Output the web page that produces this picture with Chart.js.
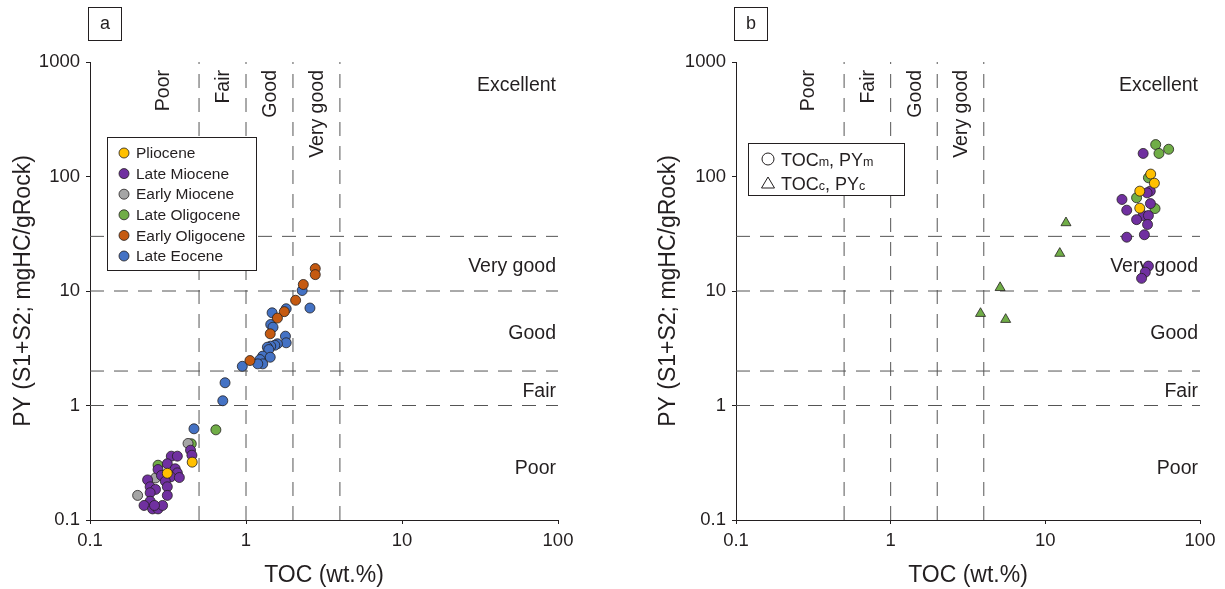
<!DOCTYPE html>
<html>
<head>
<meta charset="utf-8">
<script src="https://cdn.jsdelivr.net/npm/chart.js@4.4.1/dist/chart.umd.min.js"></script>
<style>
  body { margin: 0; background: #fff; }
  #wrap { position: relative; width: 1225px; height: 589px; }
  canvas { position: absolute; top: 0; }
</style>
</head>
<body>
<div id="wrap">
  <canvas id="chartA" width="612" height="589" style="left:0"></canvas>
  <canvas id="chartB" width="613" height="589" style="left:612px"></canvas>
</div>
<script>
// axes
const xTicks = [0.1, 1, 10, 100];
const yTicks = [0.1, 1, 10, 100, 1000];
const tocLimits = [0.5, 1, 2, 4];
const pyLimits = [1, 2, 10, 30];
const tocClasses = ["Poor", "Fair", "Good", "Very good"];
const pyClasses = ["Excellent", "Very good", "Good", "Fair", "Poor"];

// panel a: [TOC, PY]
const ages = ["Pliocene", "Late Miocene", "Early Miocene", "Late Oligocene", "Early Oligocene", "Late Eocene"];
const pliocene = [[0.452, 0.32], [0.313, 0.256]];
const lateMiocene = [[0.441, 0.407], [0.45, 0.368], [0.332, 0.361], [0.363, 0.361], [0.313, 0.31], [0.273, 0.276],
  [0.352, 0.28], [0.363, 0.258], [0.287, 0.245], [0.329, 0.238], [0.374, 0.235], [0.234, 0.224], [0.304, 0.218],
  [0.243, 0.195], [0.313, 0.195], [0.263, 0.185], [0.243, 0.173], [0.313, 0.164], [0.243, 0.146], [0.222, 0.134],
  [0.252, 0.125], [0.273, 0.125], [0.292, 0.134], [0.259, 0.134]];
const earlyMiocene = [[0.425, 0.466], [0.263, 0.233], [0.202, 0.164]];
const lateOligocene = [[0.641, 0.613], [0.446, 0.463], [0.273, 0.301]];
const earlyOligocene = [[2.78, 15.7], [2.78, 13.9], [2.33, 11.4], [2.08, 8.3], [1.76, 6.6], [1.59, 5.8], [1.43, 4.23], [1.06, 2.47]];
const lateEocene = [[2.29, 10.1], [2.57, 7.1], [1.81, 7.0], [1.47, 6.45], [1.44, 5.1], [1.49, 4.83], [1.79, 4.03],
  [1.81, 3.53], [1.59, 3.46], [1.53, 3.36], [1.44, 3.3], [1.37, 3.23], [1.40, 3.08], [1.28, 2.7], [1.43, 2.64],
  [1.23, 2.52], [1.28, 2.31], [1.19, 2.31], [0.947, 2.2], [0.734, 1.58], [0.71, 1.1], [0.464, 0.626]];

// panel b: measured (circles) and corrected (triangles)
const bPliocene = [[48, 105], [50.7, 87.4], [40.8, 74.5], [40.8, 52.9]];
const bLateMiocene = [[42.9, 159], [47.7, 74.5], [45.5, 72], [31.3, 63], [47.8, 58], [33.6, 50.8], [42.9, 45.6],
  [46.4, 45.6], [38.9, 42], [45.8, 38.1], [33.6, 29.5], [43.7, 31], [46.4, 16.5], [44.3, 14.6], [41.9, 12.9]];
const bLateOligocene = [[51.7, 190], [62.7, 173], [54.3, 159], [46.4, 97.5], [38.9, 65.2], [51.2, 52.5]];
const bCorrected = [[13.6, 39.4], [12.4, 21.3], [5.1, 10.7], [3.81, 6.36], [5.54, 5.64]];

const ink = "#231f20";
const FONT = "'Liberation Sans', Arial, sans-serif";
const colors = ["#FFC000", "#7030A0", "#A5A5A5", "#70AD47", "#C55A11", "#4472C4"];

const pts = arr => arr.map(([x, y]) => ({ x, y }));

function series(arr, color, style) {
  return {
    data: pts(arr), backgroundColor: color, borderColor: ink, borderWidth: 0.8,
    pointRadius: style === "triangle" ? 5.8 : 5, pointStyle: style || "circle", order: 0
  };
}

function refLines() {
  const lo = yTicks[0], hi = yTicks[yTicks.length - 1];
  const xl = xTicks[0], xh = xTicks[xTicks.length - 1];
  const line = data => ({
    data, showLine: true, borderColor: "#555", borderWidth: 1, borderDash: [14, 10],
    pointRadius: 0, fill: false, order: 10
  });
  return [
    ...tocLimits.map(v => line([{ x: v, y: lo }, { x: v, y: hi }])),
    ...pyLimits.map(v => line([{ x: xl, y: v }, { x: xh, y: v }]))
  ];
}

function deco(letter, legend) {
  return {
    id: "deco" + letter,
    beforeDatasetsDraw(chart) {
      const { ctx, chartArea: a, scales: { x, y } } = chart;
      ctx.save();
      ctx.fillStyle = ink;
      ctx.font = "19.5px " + FONT;
      // TOC classes, rotated
      const off = [35, 22, 22, 22];
      tocClasses.forEach((t, i) => {
        const px = x.getPixelForValue(tocLimits[i]) - off[i];
        ctx.save();
        ctx.translate(px, a.top + 8);
        ctx.rotate(-Math.PI / 2);
        ctx.textAlign = "right";
        ctx.textBaseline = "middle";
        ctx.fillText(t, 0, 0);
        ctx.restore();
      });
      // PY classes
      ctx.textAlign = "right";
      ctx.textBaseline = "middle";
      const bounds = [yTicks[0], ...pyLimits];
      pyClasses.forEach((t, i) => {
        let py;
        if (i === 0) py = a.top + 24;
        else {
          const k = pyClasses.length - 1 - i;
          py = y.getPixelForValue(Math.sqrt(bounds[k] * bounds[k + 1])) + (k === 0 ? 6 : 3);
        }
        ctx.fillText(t, a.right - 2, py);
      });
      ctx.restore();
    },
    afterDraw(chart) {
      const { ctx, chartArea: a } = chart;
      ctx.save();
      ctx.strokeStyle = ink;
      ctx.fillStyle = ink;
      ctx.lineWidth = 1;
      // panel letter
      ctx.strokeRect(a.left - 1.5, 7.5, 33, 33);
      ctx.font = "18px " + FONT;
      ctx.textAlign = "center";
      ctx.textBaseline = "middle";
      ctx.fillText(letter, a.left + 15, 24);
      if (legend === "ages") {
        const bx = a.left + 17.5, by = 137.5;
        ctx.fillStyle = "#fff";
        ctx.fillRect(bx, by, 149, 133);
        ctx.strokeRect(bx, by, 149, 133);
        ctx.font = "15.5px " + FONT;
        ctx.textAlign = "left";
        ages.forEach((t, i) => {
          const ry = 153 + i * 20.6;
          ctx.beginPath();
          ctx.arc(a.left + 34, ry, 5, 0, Math.PI * 2);
          ctx.fillStyle = colors[i];
          ctx.fill();
          ctx.lineWidth = 0.8;
          ctx.stroke();
          ctx.fillStyle = ink;
          ctx.fillText(t, a.left + 46, ry + 1);
        });
      } else {
        const bx = a.left + 12.5, by = 143.5;
        ctx.fillStyle = "#fff";
        ctx.fillRect(bx, by, 156, 52);
        ctx.strokeRect(bx, by, 156, 52);
        const mx = a.left + 32;
        ctx.lineWidth = 1;
        ctx.beginPath();
        ctx.arc(mx, 159, 6, 0, Math.PI * 2);
        ctx.stroke();
        ctx.beginPath();
        ctx.moveTo(mx, 177); ctx.lineTo(mx + 6.5, 188); ctx.lineTo(mx - 6.5, 188); ctx.closePath();
        ctx.stroke();
        ctx.fillStyle = ink;
        ctx.textAlign = "left";
        ctx.textBaseline = "alphabetic";
        const rows = [[159, "m"], [183, "c"]];
        rows.forEach(([ry, s]) => {
          let tx = a.left + 45;
          [["TOC", false], [s, true], [", PY", false], [s, true]].forEach(([t, sub]) => {
            ctx.font = (sub ? "12.5px " : "18px ") + FONT;
            ctx.fillText(t, tx, ry + (sub ? 7 : 6.5));
            tx += ctx.measureText(t).width;
          });
        });
      }
      ctx.restore();
    }
  };
}

function makeChart(id, datasets, letter, legend, padLeft, padRight, yWidth) {
  const tickFont = { family: FONT, size: 18.5 };
  return new Chart(document.getElementById(id), {
    type: "scatter",
    data: { datasets: [...datasets, ...refLines()] },
    options: {
      responsive: false, animation: false, devicePixelRatio: 1,
      layout: { padding: { left: padLeft, right: padRight, top: 62, bottom: 0 } },
      plugins: { legend: { display: false }, tooltip: { enabled: false } },
      scales: {
        x: {
          type: "logarithmic", min: xTicks[0], max: xTicks[xTicks.length - 1],
          afterBuildTicks: s => { s.ticks = xTicks.map(v => ({ value: v })); },
          afterFit: s => { s.height = 69; },
          ticks: { callback: v => String(v), font: tickFont, color: ink, padding: 6, maxRotation: 0, autoSkip: false },
          grid: { drawOnChartArea: false, tickLength: 4, color: ink },
          border: { color: ink, width: 1 },
          title: { display: true, text: "TOC (wt.%)", font: { family: FONT, size: 23 }, color: ink, padding: { top: 0, bottom: 0 } }
        },
        y: {
          type: "logarithmic", min: yTicks[0], max: yTicks[yTicks.length - 1],
          afterBuildTicks: s => { s.ticks = yTicks.map(v => ({ value: v })); },
          afterFit: s => { s.width = yWidth; },
          ticks: { callback: v => String(v), font: tickFont, color: ink, padding: 6, autoSkip: false },
          grid: { drawOnChartArea: false, tickLength: 4, color: ink },
          border: { color: ink, width: 1 },
          title: { display: true, text: "PY (S1+S2; mgHC/gRock)", font: { family: FONT, size: 23 }, color: ink, padding: { top: 10, bottom: 0 } }
        }
      }
    },
    plugins: [deco(letter, legend)]
  });
}

const aSeries = [pliocene, lateMiocene, earlyMiocene, lateOligocene, earlyOligocene, lateEocene];
makeChart("chartA", aSeries.map((s, i) => series(s, colors[i])), "a", "ages", 0, 54, 90);

makeChart("chartB", [
  series(bPliocene, colors[0]),
  series(bLateMiocene, colors[1]),
  series(bLateOligocene, colors[3]),
  series(bCorrected, colors[3], "triangle")
], "b", "types", 33, 25, 91);
</script>
</body>
</html>
